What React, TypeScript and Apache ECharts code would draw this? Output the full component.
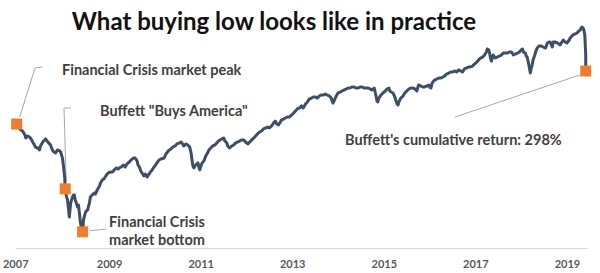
import React, { useEffect, useRef } from "react";
import * as echarts from "echarts";

// Index level (log scale), x in fractional years
const dates: number[] = [
  2007.77, 2007.82, 2007.86, 2007.9, 2007.95, 2007.97, 2008.01, 2008.05, 2008.1, 2008.12,
  2008.16, 2008.18, 2008.23, 2008.27, 2008.29, 2008.34, 2008.38, 2008.4, 2008.45, 2008.49,
  2008.51, 2008.55, 2008.58, 2008.62, 2008.66, 2008.71, 2008.73, 2008.75, 2008.77, 2008.79,
  2008.82, 2008.83, 2008.84, 2008.86, 2008.88, 2008.9, 2008.92, 2008.95, 2008.97, 2008.99,
  2009.01, 2009.03, 2009.05, 2009.08, 2009.1, 2009.12, 2009.14, 2009.16, 2009.18, 2009.21,
  2009.23, 2009.25, 2009.27, 2009.29, 2009.32, 2009.34, 2009.36, 2009.38, 2009.42, 2009.47,
  2009.49, 2009.53, 2009.58, 2009.6, 2009.64, 2009.69, 2009.73, 2009.77, 2009.82, 2009.86,
  2009.9, 2009.95, 2009.99, 2010.01, 2010.05, 2010.1, 2010.14, 2010.18, 2010.23, 2010.27,
  2010.32, 2010.36, 2010.4, 2010.42, 2010.45, 2010.49, 2010.51, 2010.55, 2010.58, 2010.62,
  2010.66, 2010.71, 2010.73, 2010.77, 2010.82, 2010.88, 2010.92, 2010.99, 2011.03, 2011.1,
  2011.14, 2011.18, 2011.23, 2011.27, 2011.32, 2011.36, 2011.38, 2011.42, 2011.47, 2011.51,
  2011.55, 2011.58, 2011.6, 2011.62, 2011.64, 2011.68, 2011.73, 2011.75, 2011.77, 2011.82,
  2011.86, 2011.9, 2011.95, 2011.97, 2012.01, 2012.05, 2012.1, 2012.14, 2012.18, 2012.21,
  2012.25, 2012.29, 2012.32, 2012.36, 2012.38, 2012.42, 2012.47, 2012.51, 2012.55, 2012.6,
  2012.64, 2012.68, 2012.73, 2012.77, 2012.82, 2012.84, 2012.88, 2012.9, 2012.95, 2012.99,
  2013.03, 2013.08, 2013.12, 2013.16, 2013.21, 2013.25, 2013.29, 2013.34, 2013.38, 2013.42,
  2013.45, 2013.49, 2013.53, 2013.55, 2013.6, 2013.64, 2013.68, 2013.73, 2013.77, 2013.82,
  2013.86, 2013.9, 2013.95, 2013.99, 2014.03, 2014.08, 2014.12, 2014.16, 2014.21, 2014.25,
  2014.29, 2014.34, 2014.38, 2014.42, 2014.47, 2014.51, 2014.55, 2014.6, 2014.64, 2014.66,
  2014.68, 2014.71, 2014.75, 2014.79, 2014.84, 2014.88, 2014.92, 2014.97, 2015.01, 2015.05,
  2015.1, 2015.14, 2015.18, 2015.23, 2015.27, 2015.32, 2015.36, 2015.4, 2015.45, 2015.49,
  2015.53, 2015.58, 2015.6, 2015.62, 2015.64, 2015.66, 2015.68, 2015.73, 2015.77, 2015.82,
  2015.86, 2015.9, 2015.92, 2015.95, 2015.99, 2016.03, 2016.05, 2016.08, 2016.1, 2016.12,
  2016.16, 2016.21, 2016.25, 2016.29, 2016.34, 2016.38, 2016.42, 2016.47, 2016.51, 2016.53,
  2016.55, 2016.6, 2016.64, 2016.68, 2016.73, 2016.77, 2016.79, 2016.82, 2016.84, 2016.86,
  2016.9, 2016.95, 2016.99, 2017.03, 2017.08, 2017.12, 2017.16, 2017.21, 2017.25, 2017.29,
  2017.34, 2017.38, 2017.42, 2017.47, 2017.51, 2017.55, 2017.6, 2017.64, 2017.68, 2017.73,
  2017.77, 2017.82, 2017.86, 2017.9, 2017.95, 2017.99, 2018.03, 2018.05, 2018.08, 2018.1,
  2018.12, 2018.14, 2018.16, 2018.18, 2018.23, 2018.27, 2018.31, 2018.36, 2018.4, 2018.45,
  2018.49, 2018.53, 2018.58, 2018.62, 2018.66, 2018.71, 2018.75, 2018.79, 2018.82, 2018.84,
  2018.88, 2018.9, 2018.92, 2018.95, 2018.97, 2018.99, 2019.01, 2019.03, 2019.05, 2019.08,
  2019.1, 2019.12, 2019.14, 2019.18, 2019.23, 2019.27, 2019.32, 2019.34, 2019.36, 2019.4,
  2019.42, 2019.45, 2019.47, 2019.49, 2019.53, 2019.58, 2019.62, 2019.64, 2019.68, 2019.71,
  2019.75, 2019.79, 2019.84, 2019.86, 2019.9, 2019.92, 2019.97, 2020.01, 2020.05, 2020.08,
  2020.1, 2020.12, 2020.14, 2020.16, 2020.18, 2020.19, 2020.2, 2020.2, 2020.2,
];

const values: number[] = [
  1577, 1529, 1505, 1493, 1448, 1414, 1436, 1425, 1391, 1370,
  1338, 1317, 1307, 1287, 1328, 1370, 1391, 1403, 1370, 1349,
  1338, 1287, 1267, 1257, 1287, 1277, 1267, 1237, 1208, 1144,
  1033, 949, 919, 891, 870, 817, 761, 850, 870, 891,
  905, 905, 870, 843, 823, 836, 786, 733, 705, 678,
  744, 767, 786, 798, 804, 830, 850, 891, 905, 919,
  911, 941, 970, 994, 1017, 1033, 1058, 1075, 1083, 1083,
  1101, 1118, 1109, 1118, 1126, 1144, 1126, 1154, 1171, 1190,
  1208, 1208, 1181, 1144, 1126, 1083, 1075, 1050, 1066, 1041,
  1066, 1092, 1101, 1126, 1154, 1190, 1199, 1208, 1247, 1287,
  1297, 1317, 1328, 1349, 1359, 1370, 1359, 1328, 1349, 1338,
  1317, 1257, 1190, 1135, 1118, 1144, 1163, 1126, 1101, 1163,
  1181, 1228, 1267, 1287, 1307, 1328, 1338, 1359, 1380, 1391,
  1403, 1414, 1380, 1359, 1328, 1307, 1328, 1338, 1359, 1370,
  1380, 1391, 1391, 1370, 1349, 1359, 1380, 1391, 1414, 1436,
  1459, 1482, 1493, 1517, 1529, 1541, 1529, 1553, 1590, 1615,
  1577, 1565, 1602, 1627, 1640, 1653, 1667, 1667, 1692, 1719,
  1747, 1774, 1788, 1817, 1788, 1846, 1874, 1918, 1933, 1949,
  1949, 1933, 1964, 1980, 1980, 1995, 1980, 1964, 1933, 1889,
  1859, 1903, 1964, 2011, 2026, 2042, 2058, 2075, 2091, 2091,
  2108, 2108, 2091, 2091, 2108, 2108, 2091, 2091, 2091, 2075,
  2058, 2091, 2026, 1964, 1889, 1874, 1933, 1980, 2011, 2042,
  2075, 2091, 2042, 2026, 2011, 1949, 1903, 1846, 1831, 1874,
  1933, 1964, 2011, 2042, 2075, 2091, 2091, 2075, 2042, 2091,
  2141, 2124, 2108, 2108, 2124, 2141, 2108, 2091, 2158, 2191,
  2226, 2244, 2261, 2261, 2278, 2297, 2333, 2351, 2370, 2370,
  2389, 2370, 2408, 2389, 2370, 2427, 2446, 2465, 2465, 2484,
  2523, 2563, 2604, 2644, 2665, 2707, 2771, 2838, 2816, 2750,
  2644, 2582, 2644, 2707, 2644, 2665, 2686, 2707, 2750, 2750,
  2750, 2771, 2771, 2707, 2729, 2750, 2771, 2816, 2838, 2771,
  2750, 2686, 2665, 2543, 2446, 2351, 2446, 2504, 2604, 2686,
  2750, 2816, 2860, 2906, 2906, 2883, 2860, 2906, 2975, 2998,
  2998, 2929, 2883, 2998, 2998, 2975, 2952, 2929, 2998, 3045,
  2998, 2975, 3045, 3094, 3144, 3168, 3194, 3217, 3269, 3293,
  3346, 3371, 3346, 3293, 3168, 2929, 2707, 2504, 2389,
];

// Highlighted points: peak, Buffett "Buys America", bottom, latest
const markerDates: number[] = [2007.77, 2008.83, 2009.21, 2020.2];
const markerValues: number[] = [1577, 949, 678, 2389];

// x-axis tick labels and their positions
const xTickPositions: number[] = [2007.75, 2009.8, 2011.8, 2013.8, 2015.8, 2017.8, 2019.8];
const xTickLabels: string[] = ["2007", "2009", "2011", "2013", "2015", "2017", "2019"];

const titleText = "What buying low looks like in practice";
const notePeak = "Financial Crisis market peak";
const noteBuy = 'Buffett "Buys America"';
const noteBottom = "Financial Crisis\nmarket bottom";
const noteReturn = "Buffett's cumulative return: 298%";

const FONT = "Lato, 'Open Sans', sans-serif";

export default function App() {
  const ref = useRef<HTMLDivElement>(null);

  useEffect(() => {
    if (!ref.current) return;
    const chart = echarts.init(ref.current, undefined, { renderer: "svg" });
    const lineData = dates.map((d, i) => [d, values[i]]);
    const markerData = markerDates.map((d, i) => [d, markerValues[i]]);

    chart.setOption({
      animation: false,
      backgroundColor: "#ffffff",
      grid: { left: 13, right: 13, top: 10, bottom: 25 },
      xAxis: {
        type: "value",
        min: 2007.75,
        max: 2020.228,
        splitLine: { show: false },
        axisTick: { show: false },
        axisLine: { show: true, lineStyle: { color: "#d9d9d9", width: 1 } },
        axisLabel: {
          customValues: xTickPositions,
          margin: 10,
          color: "#595959",
          fontSize: 11,
          fontWeight: "bold",
          fontFamily: FONT,
          formatter: (v: number) => {
            const idx = xTickPositions.findIndex((p) => Math.abs(p - v) < 1e-6);
            return idx >= 0 ? xTickLabels[idx] : "";
          },
        },
      },
      yAxis: {
        type: "log",
        logBase: 10,
        min: 597.2,
        max: 3852,
        show: false,
        splitLine: { show: false },
      },
      series: [
        {
          type: "line",
          data: lineData,
          showSymbol: false,
          symbol: "none",
          lineStyle: { color: "#3d4f66", width: 3, join: "round" },
          z: 2,
        },
        {
          type: "scatter",
          data: markerData,
          symbol: "rect",
          symbolSize: 11,
          itemStyle: { color: "#ed7d31", opacity: 1 },
          z: 3,
        },
      ],
    });

    const p = markerData.map((d) => chart.convertToPixel({ gridIndex: 0 }, d) as number[]);
    const leader = { stroke: "#a6a6a6", lineWidth: 1, fill: "none" };
    const noteStyle = {
      fill: "#404040",
      fontFamily: FONT,
      fontWeight: "bold",
      fontSize: 14.5,
    };

    chart.setOption({
      graphic: [
        {
          type: "text",
          x: 274,
          y: 20,
          style: {
            text: titleText,
            fill: "#111111",
            fontFamily: FONT,
            fontWeight: "bold",
            fontSize: 24,
            align: "center",
            verticalAlign: "middle",
          },
        },
        {
          type: "polyline",
          shape: { points: [[p[0][0] + 3, p[0][1] - 7], [35, 68], [42, 67]] },
          style: leader,
        },
        {
          type: "text",
          x: 62,
          y: 69,
          style: { ...noteStyle, text: notePeak, verticalAlign: "middle" },
        },
        {
          type: "polyline",
          shape: { points: [[p[1][0] + 1, p[1][1] - 7], [64, 108], [71, 108]] },
          style: leader,
        },
        {
          type: "text",
          x: 100,
          y: 110,
          style: { ...noteStyle, text: noteBuy, verticalAlign: "middle" },
        },
        {
          type: "polyline",
          shape: { points: [[p[2][0] + 7, p[2][1] - 1], [106, 229]] },
          style: leader,
        },
        {
          type: "text",
          x: 157,
          y: 230,
          style: {
            ...noteStyle,
            text: noteBottom,
            align: "center",
            verticalAlign: "middle",
            lineHeight: 18,
          },
        },
        {
          type: "polyline",
          shape: { points: [[455, 117], [p[3][0] - 6, p[3][1] + 4]] },
          style: leader,
        },
        {
          type: "text",
          x: 345,
          y: 139,
          style: { ...noteStyle, text: noteReturn, verticalAlign: "middle" },
        },
      ],
    });

    return () => chart.dispose();
  }, []);

  return (
    <div
      ref={ref}
      style={{ position: "fixed", left: 0, top: 0, width: 600, height: 273, background: "#fff" }}
    />
  );
}
